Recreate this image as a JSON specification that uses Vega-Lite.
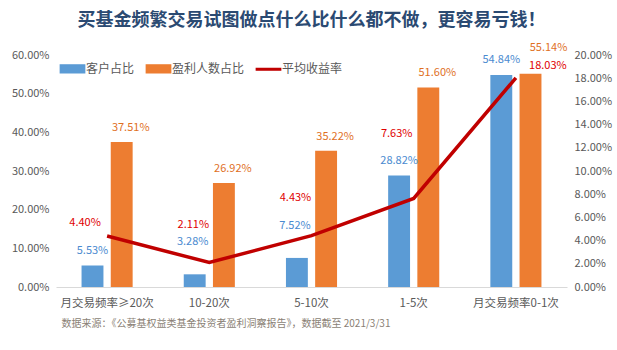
{
  "$schema": "https://vega.github.io/schema/vega-lite/v6.json",
  "width": 617,
  "height": 350,
  "autosize": {"type": "fit", "contains": "padding"},
  "padding": {"left": 11, "right": 5, "top": 19, "bottom": 21},
  "background": "white",
  "title": {
    "text": "买基金频繁交易试图做点什么比什么都不做，更容易亏钱！",
    "fontSize": 18,
    "fontWeight": "bold",
    "color": "#2B4A72",
    "font": "Noto Sans CJK SC",
    "anchor": "middle",
    "offset": 12
  },
  "config": {
    "font": "Noto Sans CJK SC",
    "view": {"stroke": null},
    "axis": {"labelFont": "Noto Sans CJK SC", "labelColor": "#595959", "labelFontSize": 11, "grid": false, "ticks": false, "domain": false}
  },
  "data": {
    "values": [
      {"cat": "月交易频率≥20次", "series": "客户占比", "v": 0.0553, "ret": 0.044},
      {"cat": "月交易频率≥20次", "series": "盈利人数占比", "v": 0.3751, "ret": 0.044},
      {"cat": "10-20次", "series": "客户占比", "v": 0.0328, "ret": 0.0211},
      {"cat": "10-20次", "series": "盈利人数占比", "v": 0.2692, "ret": 0.0211},
      {"cat": "5-10次", "series": "客户占比", "v": 0.0752, "ret": 0.0443},
      {"cat": "5-10次", "series": "盈利人数占比", "v": 0.3522, "ret": 0.0443},
      {"cat": "1-5次", "series": "客户占比", "v": 0.2882, "ret": 0.0763},
      {"cat": "1-5次", "series": "盈利人数占比", "v": 0.516, "ret": 0.0763},
      {"cat": "月交易频率0-1次", "series": "客户占比", "v": 0.5484, "ret": 0.1803},
      {"cat": "月交易频率0-1次", "series": "盈利人数占比", "v": 0.5514, "ret": 0.1803}
    ]
  },
  "encoding": {
    "x": {
      "field": "cat", "type": "nominal", "sort": null,
      "scale": {"paddingInner": 0.5, "paddingOuter": 0.25},
      "axis": {
        "labelAngle": 0, "domain": true, "domainColor": "#D9D9D9", "labelFontSize": 11.5, "labelPadding": 10,
        "title": "数据来源：《公募基权益类基金投资者盈利洞察报告》，数据截至 2021/3/31",
        "titleFontSize": 10, "titleFontWeight": "normal", "titleColor": "#8A7F75", "titleFont": "Noto Sans CJK SC",
        "titleAnchor": "start", "titleAlign": "left", "titleX": 5, "titlePadding": 10
      }
    }
  },
  "layer": [
    {
      "layer": [
        {
          "mark": {"type": "bar"},
          "encoding": {
            "xOffset": {"field": "series", "type": "nominal", "scale": {"paddingInner": 0.25}},
            "y": {"field": "v", "type": "quantitative", "scale": {"domain": [0, 0.6]},
              "axis": {"format": ".2%", "tickCount": 7, "title": null, "labelPadding": 7}},
            "color": {"field": "series", "type": "nominal",
              "scale": {"domain": ["客户占比", "盈利人数占比", "平均收益率"], "range": ["#5B9BD5", "#ED7D31", "#C00000"]},
              "legend": {
                "orient": "none", "legendX": 7, "legendY": 4, "direction": "horizontal", "title": null,
                "labelFontSize": 12, "labelColor": "#595959", "labelFont": "Noto Sans CJK SC",
                "symbolSize": 300, "columnPadding": 8,
                "symbolType": "M-1.4,-0.45H1.4V0.45H-1.4Z",
                "encode": {"symbols": {"update": {
                  "shape": {"signal": "datum.value === '平均收益率' ? 'M-1.4,-0.1H1.4V0.1H-1.4Z' : 'M-1.4,-0.45H1.4V0.45H-1.4Z'"}
                }}}
              }}
          }
        },
        {
          "transform": [{"filter": "datum.series === '客户占比' && (datum.cat === '10-20次' || datum.cat === '5-10次')"}],
          "mark": {"type": "text", "dy": -32, "dx": -2, "fontSize": 11, "color": "#4A8AD0"},
          "encoding": {
            "xOffset": {"field": "series", "type": "nominal", "scale": {"domain": ["客户占比", "盈利人数占比"], "paddingInner": 0.25}},
            "y": {"field": "v", "type": "quantitative"},
            "text": {"field": "v", "type": "quantitative", "format": ".2%"}
          }
        },
        {
          "transform": [{"filter": "datum.series === '客户占比' && datum.cat !== '10-20次' && datum.cat !== '5-10次'"}],
          "mark": {"type": "text", "dy": -15, "dx": 0, "fontSize": 11, "color": "#4A8AD0"},
          "encoding": {
            "xOffset": {"field": "series", "type": "nominal", "scale": {"domain": ["客户占比", "盈利人数占比"], "paddingInner": 0.25}},
            "y": {"field": "v", "type": "quantitative"},
            "text": {"field": "v", "type": "quantitative", "format": ".2%"}
          }
        },
        {
          "transform": [{"filter": "datum.series === '盈利人数占比' && datum.v < 0.55"}],
          "mark": {"type": "text", "dy": -14, "dx": 9, "fontSize": 11, "color": "#E0701F"},
          "encoding": {
            "xOffset": {"field": "series", "type": "nominal", "scale": {"domain": ["客户占比", "盈利人数占比"], "paddingInner": 0.25}},
            "y": {"field": "v", "type": "quantitative"},
            "text": {"field": "v", "type": "quantitative", "format": ".2%"}
          }
        },
        {
          "transform": [{"filter": "datum.series === '盈利人数占比' && datum.v >= 0.55"}],
          "mark": {"type": "text", "dy": -26, "dx": 18, "fontSize": 11, "color": "#E0701F"},
          "encoding": {
            "xOffset": {"field": "series", "type": "nominal", "scale": {"domain": ["客户占比", "盈利人数占比"], "paddingInner": 0.25}},
            "y": {"field": "v", "type": "quantitative"},
            "text": {"field": "v", "type": "quantitative", "format": ".2%"}
          }
        }
      ]
    },
    {
      "transform": [{"filter": "datum.series === '客户占比'"}],
      "layer": [
        {
          "mark": {"type": "line", "strokeWidth": 3.5, "color": "#C00000"},
          "encoding": {
            "y": {"field": "ret", "type": "quantitative", "scale": {"domain": [0, 0.2]},
              "axis": {"format": ".2%", "tickCount": 10, "title": null, "orient": "right", "labelPadding": 7}},
            "color": {"datum": "平均收益率", "type": "nominal"}
          }
        },
        {
          "transform": [{"filter": "datum.cat === '月交易频率≥20次'"}],
          "mark": {"type": "text", "dy": -13, "dx": -22, "fontSize": 11, "color": "#E00000"},
          "encoding": {
            "y": {"field": "ret", "type": "quantitative"},
            "text": {"field": "ret", "type": "quantitative", "format": ".2%"}
          }
        },
        {
          "transform": [{"filter": "datum.cat === '10-20次' || datum.cat === '5-10次'"}],
          "mark": {"type": "text", "dy": -38, "dx": -16, "fontSize": 11, "color": "#E00000"},
          "encoding": {
            "y": {"field": "ret", "type": "quantitative"},
            "text": {"field": "ret", "type": "quantitative", "format": ".2%"}
          }
        },
        {
          "transform": [{"filter": "datum.cat === '1-5次'"}],
          "mark": {"type": "text", "dy": -64, "dx": -17, "fontSize": 11, "color": "#E00000"},
          "encoding": {
            "y": {"field": "ret", "type": "quantitative"},
            "text": {"field": "ret", "type": "quantitative", "format": ".2%"}
          }
        },
        {
          "transform": [{"filter": "datum.cat === '月交易频率0-1次'"}],
          "mark": {"type": "text", "dy": -12, "dx": 32, "fontSize": 11, "color": "#E00000"},
          "encoding": {
            "y": {"field": "ret", "type": "quantitative"},
            "text": {"field": "ret", "type": "quantitative", "format": ".2%"}
          }
        }
      ]
    }
  ],
  "resolve": {"scale": {"y": "independent"}}
}
